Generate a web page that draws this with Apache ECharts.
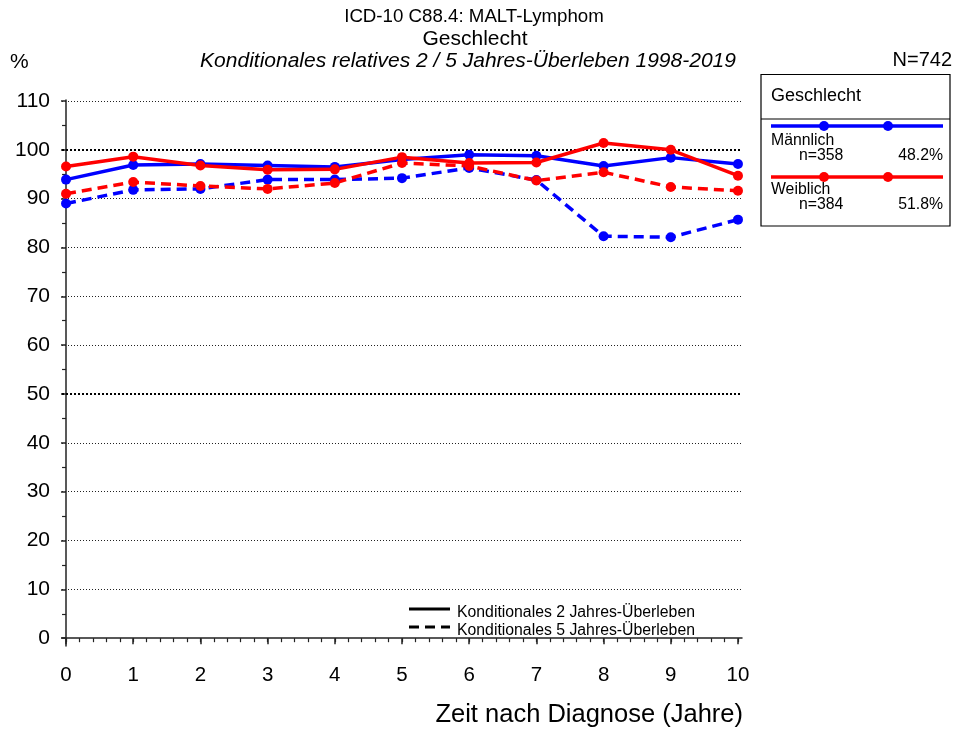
<!DOCTYPE html>
<html>
<head>
<meta charset="utf-8">
<title>MALT-Lymphom Geschlecht</title>
<script src="https://cdn.jsdelivr.net/npm/echarts@6.0.0/dist/echarts.min.js"></script>
<style>
  html, body { margin: 0; padding: 0; background: #fff; }
  #chart { width: 954px; height: 731px; }
</style>
</head>
<body>
<div id="chart"></div>
<script>
// Jahre nach Diagnose
const years = [0, 1, 2, 3, 4, 5, 6, 7, 8, 9, 10];
// konditionales relatives Überleben in %
const maleTwo = [93.9, 96.9, 97.1, 96.8, 96.5, 98.0, 99.0, 98.8, 96.7, 98.4, 97.1];
const maleFive = [89.0, 91.8, 92.0, 93.9, 93.9, 94.2, 96.3, 93.8, 82.3, 82.1, 85.7];
const femaleTwo = [96.6, 98.6, 96.8, 95.9, 96.0, 98.5, 97.3, 97.4, 101.4, 100.0, 94.7];
const femaleFive = [91.0, 93.4, 92.6, 92.0, 93.2, 97.3, 96.7, 93.7, 95.4, 92.4, 91.6];

const yTicks = [0, 10, 20, 30, 40, 50, 60, 70, 80, 90, 100, 110];
const yMinor = [5, 15, 25, 35, 45, 55, 65, 75, 85, 95, 105];
const xTicks = [0, 1, 2, 3, 4, 5, 6, 7, 8, 9, 10];
const xMinor = [];
for (let i = 0; i <= 50; i++) xMinor.push(i / 5);
const thinGrid = [10, 20, 30, 40, 60, 70, 80, 90, 110];
const boldGrid = [50, 100];

const FONT = "Liberation Sans, Arial, sans-serif";
const BLUE = "#0000ff";
const RED = "#ff0000";

function pairs(vals) {
  return years.map((x, i) => [x, vals[i]]);
}

function lineSeries(name, vals, color, dashed) {
  return {
    name: name,
    type: "line",
    data: pairs(vals),
    symbol: "circle",
    symbolSize: 10,
    itemStyle: { color: color },
    lineStyle: { color: color, width: 3.5, type: dashed ? [10, 6] : "solid" },
    emphasis: { disabled: true },
    z: 5
  };
}

function txt(text, x, y, size, align, extra) {
  return {
    type: "text",
    style: Object.assign({
      text: text, x: x, y: y, align: align || "left", verticalAlign: "middle",
      fontSize: size, fontFamily: FONT, fill: "#000"
    }, extra || {})
  };
}

const chart = echarts.init(document.getElementById("chart"));

chart.setOption({
  animation: false,
  textStyle: { fontFamily: FONT },
  grid: { left: 62, right: 212, top: 100, bottom: 85 },
  xAxis: [
    {
      type: "value",
      min: -0.06,
      max: 10.06,
      axisLine: { show: true, lineStyle: { color: "#222", width: 1.5 } },
      axisTick: { show: true, customValues: xTicks, length: 6, lineStyle: { color: "#222", width: 1.5 } },
      axisLabel: { customValues: xTicks, color: "#000", fontSize: 20.5, margin: 19, fontFamily: FONT },
      splitLine: { show: false }
    },
    {
      // kleine Striche alle 0.2 Jahre
      type: "value",
      min: -0.06,
      max: 10.06,
      position: "bottom",
      axisLine: { show: false },
      axisTick: { show: true, customValues: xMinor, length: 4, lineStyle: { color: "#222", width: 1.2 } },
      axisLabel: { show: false },
      splitLine: { show: false }
    }
  ],
  yAxis: [
    {
      type: "value",
      min: -1.6,
      max: 110.2,
      axisLine: { show: true, lineStyle: { color: "#222", width: 1.5 } },
      axisTick: { show: true, customValues: yTicks, length: 5, lineStyle: { color: "#222", width: 1.5 } },
      axisLabel: { customValues: yTicks, color: "#000", fontSize: 21, margin: 12, fontFamily: FONT },
      splitLine: { show: false }
    },
    {
      type: "value",
      min: -1.6,
      max: 110.2,
      position: "left",
      axisLine: { show: false },
      axisTick: { show: true, customValues: yMinor, length: 4, lineStyle: { color: "#222", width: 1.2 } },
      axisLabel: { show: false },
      splitLine: { show: false }
    }
  ],
  series: [
    {
      // Hilfslinien
      type: "line",
      data: [],
      silent: true,
      markLine: {
        symbol: "none",
        silent: true,
        label: { show: false },
        animation: false,
        data: thinGrid.map(v => ({ yAxis: v, lineStyle: { color: "#222", width: 1, type: [1, 2] } }))
          .concat(boldGrid.map(v => ({ yAxis: v, lineStyle: { color: "#000", width: 2, type: [2, 2] } })))
      },
      z: 1
    },
    lineSeries("Männlich 2J", maleTwo, BLUE, false),
    lineSeries("Männlich 5J", maleFive, BLUE, true),
    lineSeries("Weiblich 2J", femaleTwo, RED, false),
    lineSeries("Weiblich 5J", femaleFive, RED, true)
  ],
  graphic: [
    // Titel
    txt("ICD-10 C88.4: MALT-Lymphom", 474, 17, 18.7, "center"),
    txt("Geschlecht", 475, 39, 21, "center"),
    txt("Konditionales relatives 2 / 5 Jahres-Überleben 1998-2019", 468, 61, 21, "center", { fontStyle: "italic" }),
    txt("%", 10, 62, 21),
    txt("N=742", 952, 60, 20, "right"),
    txt("Zeit nach Diagnose (Jahre)", 743, 715, 25.5, "right"),

    // Legende rechts
    { type: "rect", shape: { x: 761, y: 74.5, width: 189, height: 151.5 }, style: { fill: "#fff", stroke: "#000", lineWidth: 1.2 } },
    { type: "line", shape: { x1: 761, y1: 119, x2: 950, y2: 119 }, style: { stroke: "#000", lineWidth: 1.2 } },
    txt("Geschlecht", 771, 96, 18),
    { type: "line", shape: { x1: 771, y1: 126, x2: 943, y2: 126 }, style: { stroke: BLUE, lineWidth: 3.5 } },
    { type: "circle", shape: { cx: 824, cy: 126, r: 5 }, style: { fill: BLUE } },
    { type: "circle", shape: { cx: 888, cy: 126, r: 5 }, style: { fill: BLUE } },
    txt("Männlich", 771, 141, 15.8),
    txt("n=358", 799, 156, 15.8),
    txt("48.2%", 943, 156, 15.8, "right"),
    { type: "line", shape: { x1: 771, y1: 177, x2: 943, y2: 177 }, style: { stroke: RED, lineWidth: 3.5 } },
    { type: "circle", shape: { cx: 824, cy: 177, r: 5 }, style: { fill: RED } },
    { type: "circle", shape: { cx: 888, cy: 177, r: 5 }, style: { fill: RED } },
    txt("Weiblich", 771, 190, 15.8),
    txt("n=384", 799, 205, 15.8),
    txt("51.8%", 943, 205, 15.8, "right"),

    // Legende Linienart
    { type: "line", shape: { x1: 409, y1: 609, x2: 450, y2: 609 }, style: { stroke: "#000", lineWidth: 3 } },
    txt("Konditionales 2 Jahres-Überleben", 457, 613, 15.8),
    { type: "line", shape: { x1: 409, y1: 627, x2: 450, y2: 627 }, style: { stroke: "#000", lineWidth: 3, lineDash: [10, 6] } },
    txt("Konditionales 5 Jahres-Überleben", 457, 631, 15.8)
  ]
});
</script>
</body>
</html>
